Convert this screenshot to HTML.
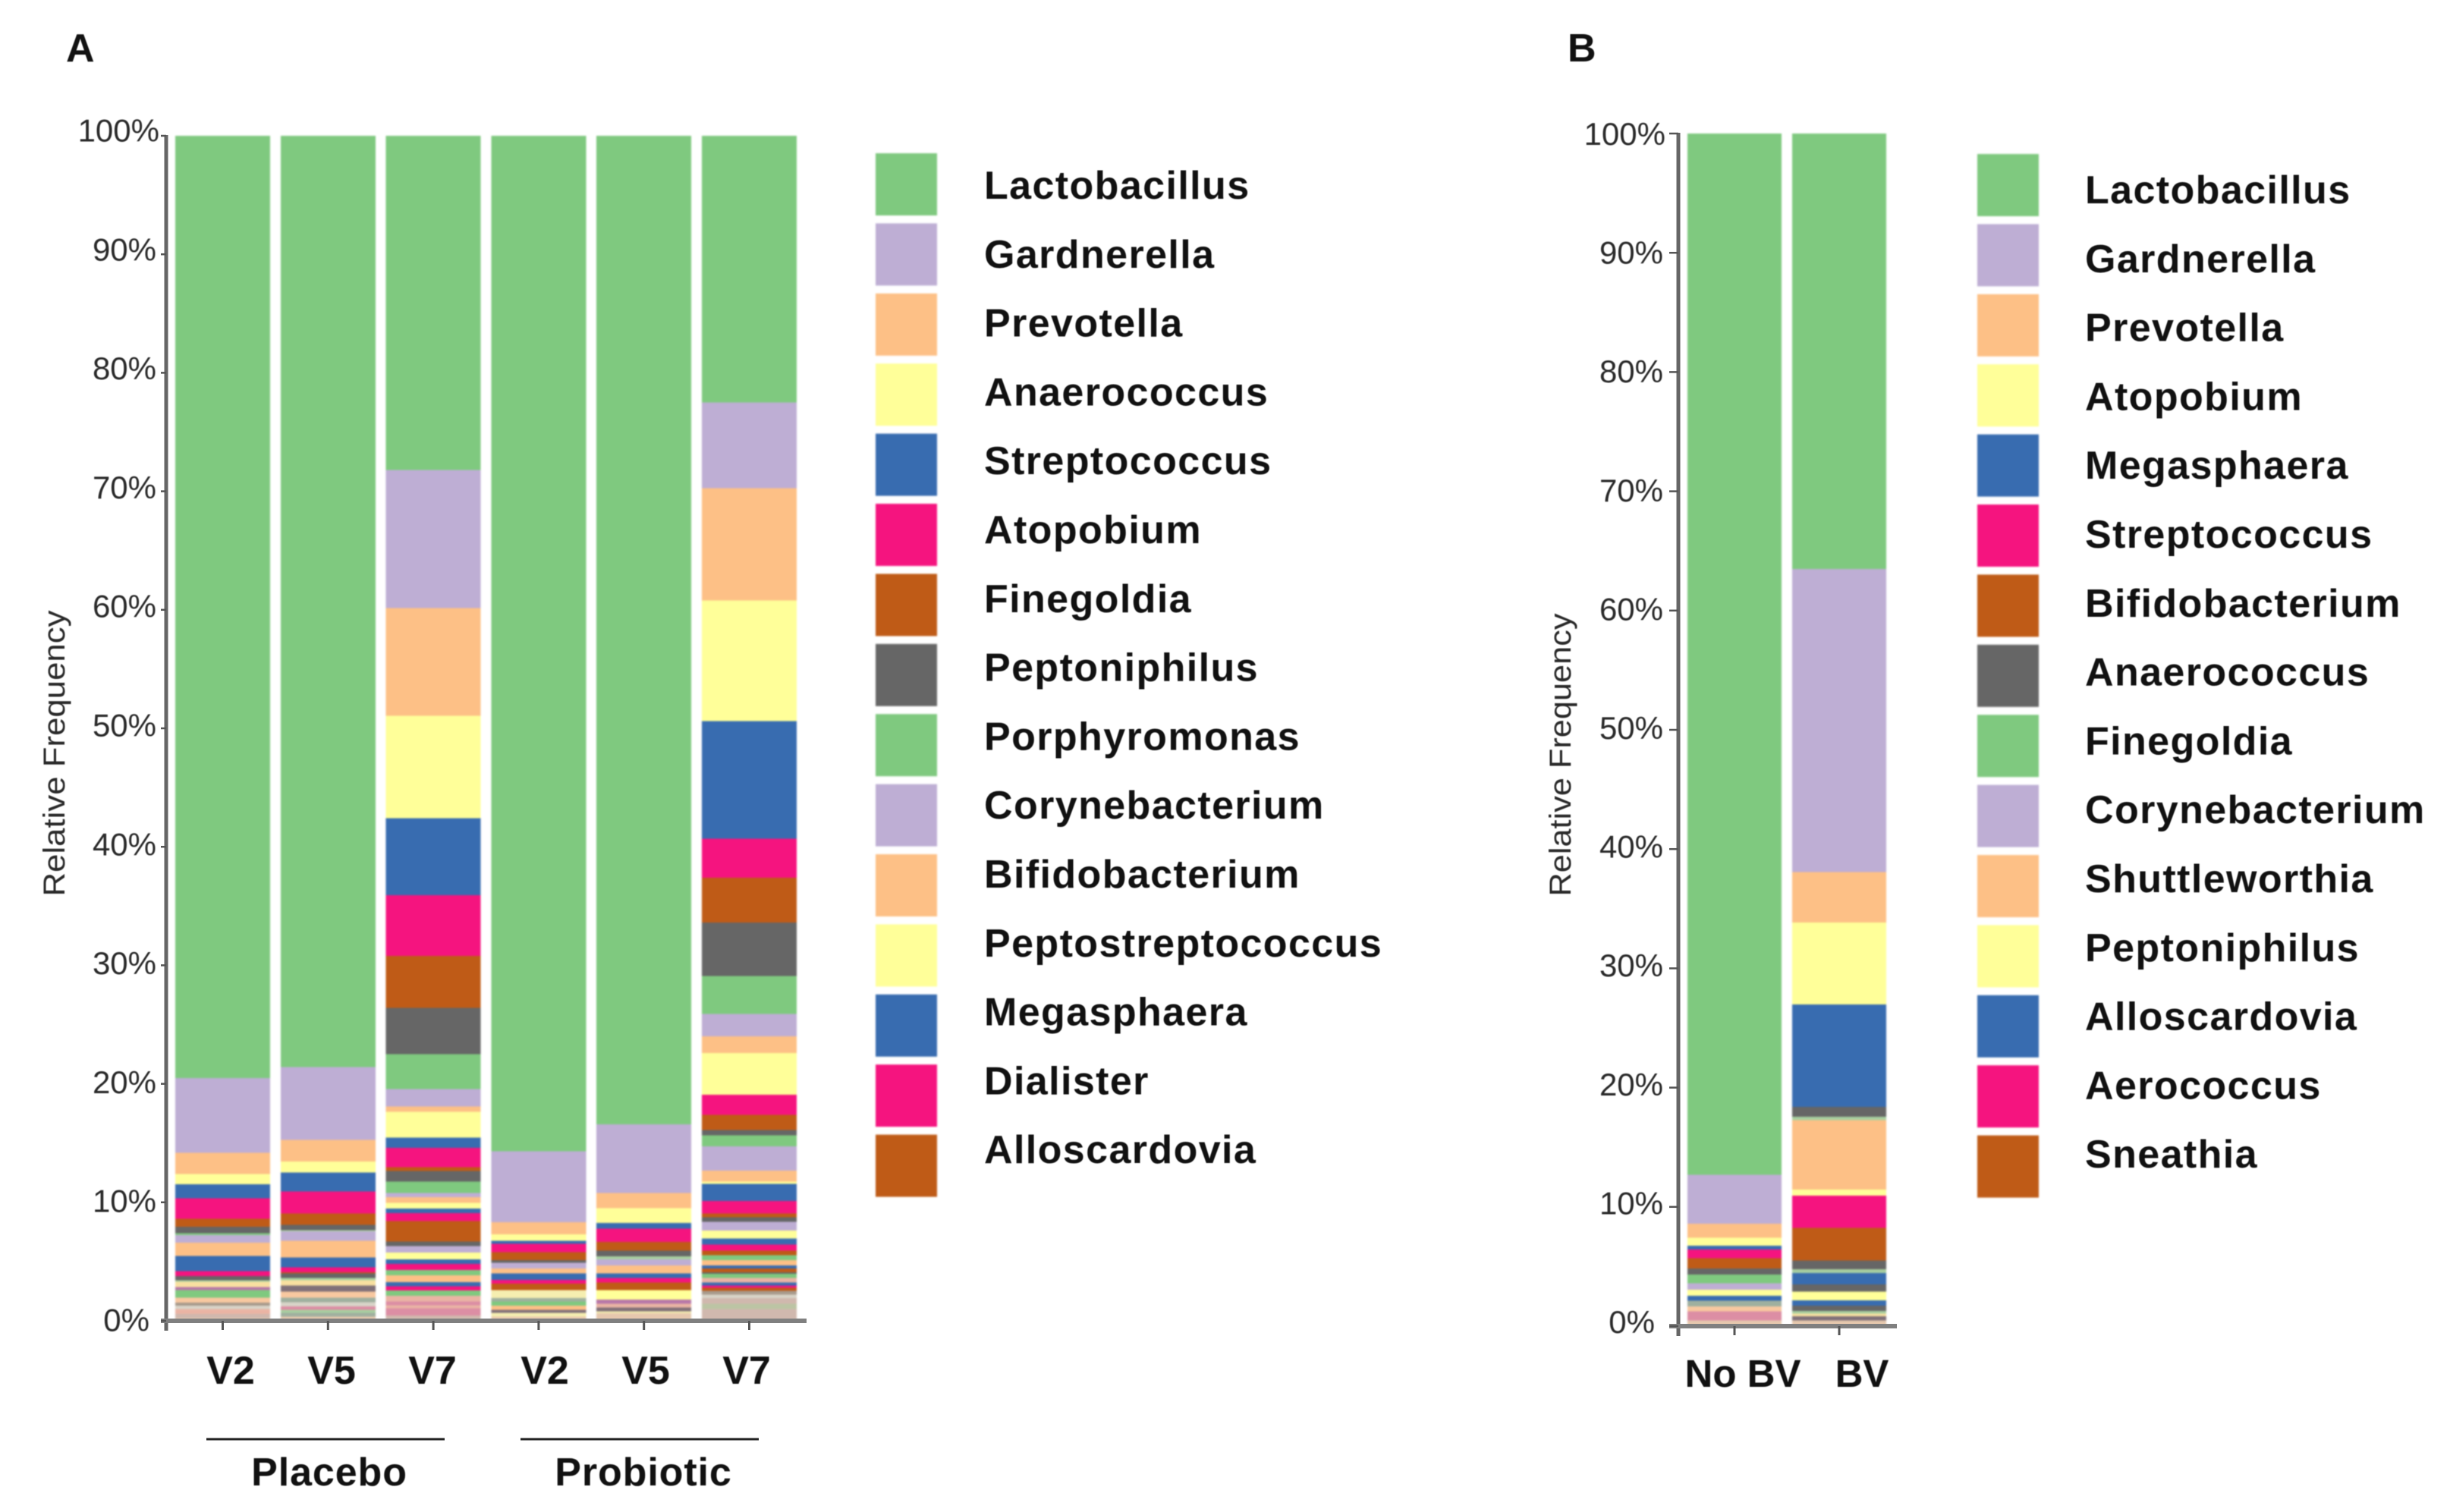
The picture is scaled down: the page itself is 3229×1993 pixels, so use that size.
<!DOCTYPE html>
<html lang="en">
<head>
<meta charset="utf-8">
<title>Relative frequency of vaginal bacterial taxa</title>
<style>
html,body{margin:0;padding:0;background:#fff;}
svg{display:block;}
text{font-family:"Liberation Sans",Arial,sans-serif;}
</style>
</head>
<body>
<svg id="figure" xmlns="http://www.w3.org/2000/svg" width="3229" height="1993" viewBox="0 0 3229 1993">
  <defs>
    <filter id="soft" x="-5%" y="-5%" width="110%" height="110%" color-interpolation-filters="sRGB"><feGaussianBlur stdDeviation="1.1"/></filter>
    <filter id="softText" x="-5%" y="-5%" width="110%" height="110%" color-interpolation-filters="sRGB"><feGaussianBlur stdDeviation="0.6"/></filter>
  </defs>
  <rect width="3229" height="1993" fill="#ffffff"/>
</svg>
<script>
// ---------- data: segment percentages, dominant taxon first ----------
const yTicks = [0, 10, 20, 30, 40, 50, 60, 70, 80, 90, 100];

const categoriesA = ['V2', 'V5', 'V7', 'V2', 'V5', 'V7'];
const groupsA = ['Placebo', 'Probiotic'];
const categoriesB = ['No BV', 'BV'];

const legendA = ['Lactobacillus', 'Gardnerella', 'Prevotella', 'Anaerococcus', 'Streptococcus', 'Atopobium', 'Finegoldia', 'Peptoniphilus', 'Porphyromonas', 'Corynebacterium', 'Bifidobacterium', 'Peptostreptococcus', 'Megasphaera', 'Dialister', 'Alloscardovia'];
const legendB = ['Lactobacillus', 'Gardnerella', 'Prevotella', 'Atopobium', 'Megasphaera', 'Streptococcus', 'Bifidobacterium', 'Anaerococcus', 'Finegoldia', 'Corynebacterium', 'Shuttleworthia', 'Peptoniphilus', 'Alloscardovia', 'Aerococcus', 'Sneathia'];

const placeboV2Values = [79.51, 6.32, 1.79, 0.86, 1.19, 1.71, 0.68, 0.54, 0.17, 0.64, 1.11, 1.28, 0.42, 0.37, 0.12, 0.43, 0.26, 0.64, 0.42, 0.26, 0.28, 0.42, 0.37, 0.21];
const placeboV2Taxa = 'GPOYBKRDGPOBKDSAMGLTHNEC'.split('');

const placeboV5Values = [78.58, 6.14, 1.84, 0.91, 1.6, 1.86, 0.96, 0.47, 0.09, 0.81, 1.41, 0.81, 0.42, 0.11, 0.36, 0.22, 0.42, 0.54, 0.49, 0.38, 0.36, 0.28, 0.26, 0.32, 0.36];
const placeboV5Taxa = 'GPOYBKRDSPOBKRDSAVLXHWSXC'.split('');

const placeboV7Values = [28.2, 11.65, 9.1, 8.65, 6.5, 5.1, 4.4, 3.9, 2.93, 1.5, 0.42, 2.2, 0.85, 1.65, 0.32, 0.89, 0.96, 0.35, 0.46, 0.5, 0.37, 0.67, 1.73, 0.4, 0.54, 0.56, 0.4, 0.5, 0.45, 0.6, 0.33, 0.37, 0.45, 0.46, 0.34, 0.25, 0.6, 0.45];
const placeboV7Taxa = 'GPOYBKRDGPOYBKRDGPOYBKRDPYBKGOBKGNWNWE'.split('');

const probioticV2Values = [85.7, 5.98, 1.02, 0.54, 0.27, 0.69, 0.68, 0.22, 0.48, 0.42, 0.54, 0.32, 0.54, 0.68, 0.28, 0.36, 0.34, 0.26, 0.32, 0.36];
const probioticV2Taxa = 'GPOYBKRDPOBKRZXGOVZC'.split('');

const probioticV5Values = [83.42, 5.8, 1.28, 1.24, 0.49, 1.11, 0.75, 0.47, 0.24, 0.53, 0.68, 0.36, 0.39, 0.64, 0.81, 0.36, 0.32, 0.32, 0.15, 0.64];
const probioticV5Taxa = 'GPOYBKRDSPOBKRYMNVZC'.split('');

const probioticV7Values = [22.5, 7.25, 9.45, 10.2, 9.9, 3.3, 3.8, 4.5, 3.2, 1.9, 1.4, 3.52, 1.71, 1.28, 0.43, 0.94, 2.04, 0.94, 0.17, 1.45, 1.05, 0.32, 0.39, 0.74, 0.68, 0.5, 0.53, 0.38, 0.41, 0.45, 0.25, 0.32, 0.13, 0.34, 0.39, 0.25, 0.22, 0.23, 0.32, 0.3, 0.49, 0.43, 1.0];
const probioticV7Taxa = 'GPOYBKRDGPOYKRDGPOYBKRDPYBKRGOBRDGNBKRTHEQE'.split('');

const noBvValues = [87.31, 4.11, 1.18, 0.67, 0.29, 0.75, 0.85, 0.51, 0.72, 0.56, 0.49, 0.44, 0.47, 0.42, 0.74, 0.49];
const noBvTaxa = 'GPOYBKRDGPYBXLWC'.split('');

const bvValues = [36.5, 25.42, 4.23, 6.89, 8.57, 0.84, 0.29, 5.8, 0.53, 2.7, 2.72, 0.74, 0.31, 0.96, 0.62, 0.72, 0.44, 0.45, 0.22, 0.23, 0.33, 0.49];
const bvTaxa = 'GPOYBDSOYKRDSBDYBDSAVC'.split('');

const seriesA = [placeboV2Values, placeboV5Values, placeboV7Values, probioticV2Values, probioticV5Values, probioticV7Values];
const taxaA = [placeboV2Taxa, placeboV5Taxa, placeboV7Taxa, probioticV2Taxa, probioticV5Taxa, probioticV7Taxa];
const seriesB = [noBvValues, bvValues];
const taxaB = [noBvTaxa, bvTaxa];

// ---------- styling ----------
const palette = {
  G: '#7fc97f', P: '#beaed4', O: '#fdc086', Y: '#ffff99', B: '#386cb0', K: '#f5147f', R: '#bf5b17', D: '#666666',
  S: '#a8cfa0', A: '#f8e0a0', M: '#b878a8', T: '#a89a8c', H: '#d8d4c8', N: '#eab4a4', E: '#d0b8ae', C: '#e6c8ae',
  W: '#dc8ea4', V: '#807078', X: '#9fb09f', Z: '#f5eeb0', L: '#f8c8a0', Q: '#bcc4a4'
};
const legendCycle = 'GPOYBKRD'.split('');

const svg = document.getElementById('figure');
const NS = 'http://www.w3.org/2000/svg';

function make(tag, attrs, parent) {
  const el = document.createElementNS(NS, tag);
  for (const key in attrs) el.setAttribute(key, attrs[key]);
  parent.appendChild(el);
  return el;
}

function drawPanel(p) {
  const panel = make('g', {}, svg);
  
  

  const yScale = function (v) { return p.y0 + (p.y100 - p.y0) * v / 100; };
  const xScale = function (i) { return p.barLeft + i * p.barStep; };

  // panel letter
  const letter = make('text', { x: p.letterX, y: 81, 'font-size': 52, 'font-weight': 700, fill: '#111', filter: 'url(#softText)' }, panel);
  
  
  letter.textContent = p.letter;

  // bars
  const barsGroup = make('g', { filter: 'url(#soft)' }, panel);
  
  
  p.series.forEach(function (values, i) {
    const taxa = p.taxa[i];
    let cum = 0;
    for (let s = values.length - 1; s >= 0; s--) {
      const top = yScale(cum + values[s]);
      const bottom = yScale(cum);
      const seg = make('rect', { x: xScale(i), y: top, width: p.barWidth, height: Math.max(0, bottom - top), fill: palette[taxa[s]], 'shape-rendering': 'crispEdges' }, barsGroup);
      
      
      cum += values[s];
    }
  });

  // axes
  const axisGroup = make('g', {}, panel);
  
  

  const yAxis = make('line', { x1: p.axisX, x2: p.axisX, y1: yScale(100) - 1, y2: p.y0 + 13, stroke: '#666', 'stroke-width': 5 }, axisGroup);
  
  

  const xAxis = make('line', { x1: p.tickLeft, x2: p.axisEnd, y1: p.y0, y2: p.y0, stroke: '#808080', 'stroke-width': 6 }, axisGroup);
  
  

  yTicks.forEach(function (t) {
    const tick = make('line', { x1: p.tickLeft, x2: p.axisX, y1: yScale(t), y2: yScale(t), stroke: '#555', 'stroke-width': 2.5 }, axisGroup);
    
    

    const rightX = t === 0 ? p.labelRight0 : (t === 100 ? p.labelRight100 : p.labelRight);
    const label = make('text', { x: rightX, y: yScale(t) + p.labelOffset0 + p.labelOffsetSlope * t, 'text-anchor': 'end', 'font-size': 42, fill: '#2a2a2a', filter: 'url(#softText)' }, axisGroup);
    
    
    label.textContent = t + '%';
  });

  p.categories.forEach(function (name, i) {
    const cx = xScale(i) + p.barWidth / 2;
    const tick = make('line', { x1: cx, x2: cx, y1: p.y0, y2: p.y0 + 12, stroke: '#555', 'stroke-width': 3 }, axisGroup);
    
    

    const label = make('text', { x: p.catX(i), y: p.catY, 'text-anchor': 'middle', 'font-size': p.catSize, 'font-weight': 700, fill: '#111', filter: 'url(#softText)' }, axisGroup);
    
    
    label.textContent = name;
  });

  // y-axis title
  const title = make('text', { x: 0, y: 0, transform: 'translate(' + p.titleX + ',' + p.titleY + ') rotate(-90)', 'text-anchor': 'middle', 'font-size': 40, textLength: p.titleLength, lengthAdjust: 'spacingAndGlyphs', fill: '#2a2a2a', filter: 'url(#softText)' }, panel);
  
  
  title.textContent = 'Relative Frequency';

  // legend
  const legend = make('g', {}, panel);
  
  
  p.legend.forEach(function (name, i) {
    const swatch = make('rect', { x: p.swatchX, y: p.swatchY + i * 92.4, width: 81, height: 82, fill: palette[legendCycle[i % legendCycle.length]], filter: 'url(#soft)' }, legend);
    
    

    const text = make('text', { x: p.legendTextX, y: p.legendTextY + i * 90.8, 'font-size': 52, 'font-weight': 700, 'letter-spacing': 1.4, fill: '#111', filter: 'url(#softText)' }, legend);
    
    
    text.textContent = name;
  });

  return panel;
}

const panelA = drawPanel({
  id: 'panel-a', letter: 'A', letterX: 87,
  y0: 1741, y100: 179,
  barLeft: 231, barStep: 138.8, barWidth: 125,
  axisX: 219, tickLeft: 212, axisEnd: 1063,
  labelRight: 206, labelRight100: 210, labelRight0: 197,
  labelOffset0: 13.5, labelOffsetSlope: -0.06,
  titleX: 85, titleY: 993, titleLength: 377,
  series: seriesA, taxa: taxaA,
  categories: categoriesA,
  catX: function (i) { return 304 + 133 * (i % 3) + 414 * Math.floor(i / 3); },
  catY: 1824, catSize: 52,
  legend: legendA, swatchX: 1154, swatchY: 202, legendTextX: 1297, legendTextY: 262
});

const panelB = drawPanel({
  id: 'panel-b', letter: 'B', letterX: 2066,
  y0: 1748, y100: 176,
  barLeft: 2224, barStep: 138, barWidth: 124,
  axisX: 2212, tickLeft: 2200, axisEnd: 2500,
  labelRight: 2192, labelRight100: 2195, labelRight0: 2181,
  labelOffset0: 9, labelOffsetSlope: 0.06,
  titleX: 2070, titleY: 995, titleLength: 373,
  series: seriesB, taxa: taxaB,
  categories: categoriesB,
  catX: function (i) { return 2297 + 157 * i; },
  catY: 1828, catSize: 51,
  legend: legendB, swatchX: 2606, swatchY: 203, legendTextX: 2748, legendTextY: 268
});

groupsA.forEach(function (name, g) {
  const rule = make('line', { x1: 272 + 414 * g, x2: 586 + 414 * g, y1: 1897, y2: 1897, stroke: '#222', 'stroke-width': 3 }, panelA);
  
  

  const label = make('text', { x: 434 + 414 * g, y: 1958, 'text-anchor': 'middle', 'font-size': 52, 'font-weight': 700, 'letter-spacing': 0.9, fill: '#111', filter: 'url(#softText)' }, panelA);
  
  
  label.textContent = name;
});
</script>
</body>
</html>
